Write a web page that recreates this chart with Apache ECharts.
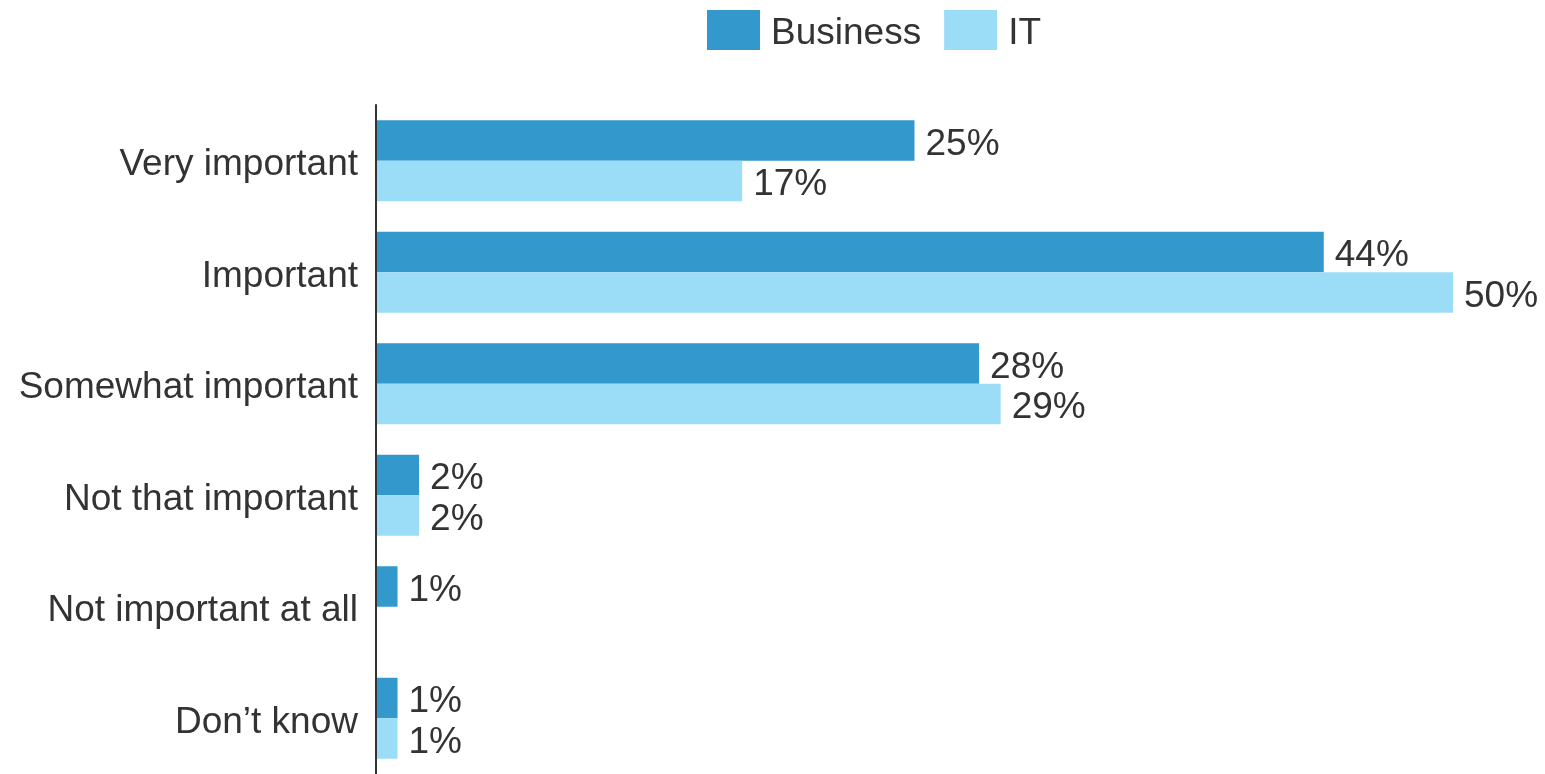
<!DOCTYPE html>
<html>
<head>
<meta charset="utf-8">
<script src="https://cdn.jsdelivr.net/npm/echarts@6/dist/echarts.min.js"></script>
<style>
  html, body { margin: 0; padding: 0; background: #ffffff; }
  #chart { width: 1545px; height: 774px; }
</style>
</head>
<body>
<div id="chart"></div>
<script>
// Importance ratings, share of respondents (%)
const categories = [
  'Very important',
  'Important',
  'Somewhat important',
  'Not that important',
  'Not important at all',
  'Don\u2019t know'
];
const businessValues = [25, 44, 28, 2, 1, 1];
const itValues = [17, 50, 29, 2, null, 1];
const seriesNames = ['Business', 'IT'];

const FONT = '"Liberation Sans", Arial, sans-serif';
const TEXT = '#333333';

const chart = echarts.init(document.getElementById('chart'), null, { renderer: 'canvas' });

const valueLabel = {
  show: true,
  position: 'right',
  distance: 11,
  offset: [0, 4],
  formatter: p => p.value + '%',
  fontFamily: FONT,
  fontSize: 37,
  color: TEXT
};

chart.setOption({
  animation: false,
  backgroundColor: '#ffffff',
  legend: {
    left: 707,
    top: 10,
    padding: 0,
    itemWidth: 53,
    itemHeight: 40,
    itemGap: 23,
    icon: 'rect',
    formatter: name => '{l|' + name + '}',
    textStyle: {
      fontFamily: FONT,
      fontSize: 37,
      color: TEXT,
      rich: {
        l: {
          padding: [8, 0, 0, 6],
          fontFamily: FONT,
          fontSize: 37,
          color: TEXT
        }
      }
    },
    data: seriesNames
  },
  grid: {
    left: 376,
    right: 92,
    top: 105,
    bottom: -3,
    containLabel: false
  },
  xAxis: {
    type: 'value',
    min: 0,
    max: 50,
    show: false
  },
  yAxis: {
    type: 'category',
    inverse: true,
    z: 5,
    data: categories,
    axisTick: { show: false },
    axisLine: { show: true, lineStyle: { color: '#333333', width: 2 } },
    axisLabel: {
      margin: 18,
      formatter: v => '{c|' + v + '}',
      rich: {
        c: {
          padding: [9, 0, 0, 0],
          fontFamily: FONT,
          fontSize: 37,
          color: TEXT
        }
      }
    },
    splitLine: { show: false }
  },
  series: [
    {
      name: seriesNames[0],
      type: 'bar',
      data: businessValues,
      barWidth: 40.5,
      barGap: '0%',
      itemStyle: { color: '#3399cc' },
      label: valueLabel
    },
    {
      name: seriesNames[1],
      type: 'bar',
      data: itValues,
      barWidth: 40.5,
      barGap: '0%',
      itemStyle: { color: '#9bdcf7' },
      label: valueLabel
    }
  ]
});
</script>
</body>
</html>
